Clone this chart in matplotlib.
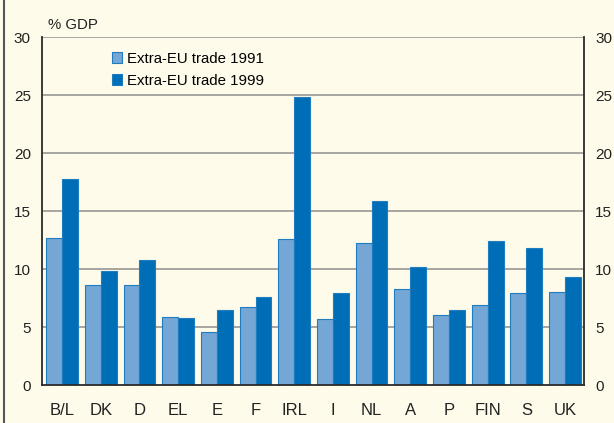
import matplotlib
matplotlib.use("Agg")
import matplotlib.pyplot as plt
import numpy as np
from matplotlib.lines import Line2D
from matplotlib.patches import Patch

# datos
paises = ['B/L', 'DK', 'D', 'EL', 'E', 'F', 'IRL', 'I', 'NL', 'A', 'P', 'FIN', 'S', 'UK']
comercio_1991 = [12.7, 8.6, 8.6, 5.9, 4.6, 6.7, 12.6, 5.7, 12.2, 8.3, 6.0, 6.9, 7.9, 8.0]
comercio_1999 = [17.8, 9.8, 10.8, 5.8, 6.5, 7.6, 24.8, 7.9, 15.9, 10.2, 6.5, 12.4, 11.8, 9.3]
yticks = [0, 5, 10, 15, 20, 25, 30]

fondo = '#FEFBEA'
azul_claro = '#74A6D6'
azul = '#006EB6'
borde = '#1E7DC0'

plt.rcParams['font.family'] = ['Liberation Sans', 'DejaVu Sans']

fig = plt.figure(figsize=(6.14, 4.23), dpi=100, facecolor=fondo)
ax = fig.add_axes([0.0684, 0.0898, 0.8827, 0.8227], facecolor=fondo)

x = np.arange(len(paises))
w = 0.41
ax.bar(x - w / 2, comercio_1991, w, color=azul_claro, edgecolor=borde, linewidth=0.8, zorder=3)
ax.bar(x + w / 2, comercio_1999, w, color=azul, edgecolor=borde, linewidth=0.8, zorder=3)

ax.set_xlim(-0.52, 13.49)
ax.set_ylim(0, 30)
ax.set_yticks(yticks)
ax.set_xticks(x)
ax.set_xticklabels(paises)
ax.tick_params(axis='both', length=0, colors='#222222')
ax.tick_params(axis='x', pad=13, labelsize=12)
ax.tick_params(axis='y', pad=8, labelsize=11, labelright=True)
for v in yticks[1:]:
    ax.axhline(v, color='#A09F9A', linewidth=1.3, zorder=1)

ax.spines['top'].set_visible(False)
for s in ['left', 'right', 'bottom']:
    ax.spines[s].set_color('#2A2A2A')
    ax.spines[s].set_linewidth(1.3)
ax.spines['bottom'].set_zorder(4)

fig.text(48 / 614, 1 - 25 / 423, '% GDP', fontsize=10.8, va='center', ha='left', color='#222222')

handles = [Patch(facecolor=azul_claro, edgecolor=borde, linewidth=0.8),
           Patch(facecolor=azul, edgecolor=borde, linewidth=0.8)]
ax.legend(handles, ['Extra-EU trade 1991', 'Extra-EU trade 1999'],
          loc='upper left', bbox_to_anchor=(0.118, 0.975), frameon=False,
          fontsize=10.8, handlelength=0.7, handleheight=0.7, handletextpad=0.3,
          labelspacing=0.55, borderaxespad=0)

# borde izquierdo de la figura
fig.add_artist(Line2D([3.5 / 614, 3.5 / 614], [0, 1], color='#555555', linewidth=1.5))

fig.savefig('out.png', dpi=100, facecolor=fondo)
